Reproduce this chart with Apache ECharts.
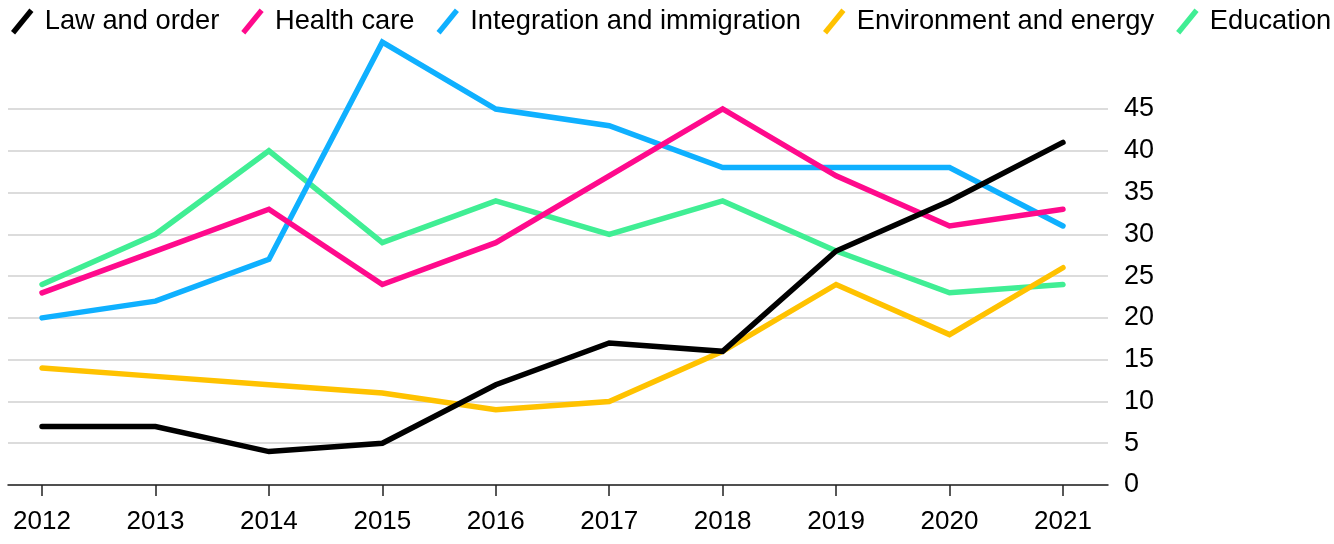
<!DOCTYPE html>
<html>
<head>
<meta charset="utf-8">
<script src="https://cdn.jsdelivr.net/npm/echarts@6/dist/echarts.min.js"></script>
<style>html,body{margin:0;padding:0;background:#fff}#c{width:1334px;height:544px}</style>
</head>
<body>
<div id="c"></div>
<script>
const years = [2012, 2013, 2014, 2015, 2016, 2017, 2018, 2019, 2020, 2021];
const seriesNames = ['Law and order', 'Health care', 'Integration and immigration', 'Environment and energy', 'Education'];
const lawAndOrder = [7, 7, 4, 5, 12, 17, 16, 28, 34, 41];
const healthCare = [23, 28, 33, 24, 29, 37, 45, 37, 31, 33];
const integration = [20, 22, 27, 53, 45, 43, 38, 38, 38, 31];
const environment = [14, 13, 12, 11, 9, 10, 16, 24, 18, 26];
const education = [24, 30, 40, 29, 34, 30, 34, 28, 23, 24];
const yTicks = [0, 5, 10, 15, 20, 25, 30, 35, 40, 45];
const colors = ['#000000', '#ff0a8c', '#0fb0ff', '#ffc200', '#40ee94'];

const values = [lawAndOrder, healthCare, integration, environment, education];
const font = '"Liberation Sans", Arial, Helvetica, sans-serif';
const chart = echarts.init(document.getElementById('c'), null, {renderer: 'canvas'});
chart.setOption({
  animation: false,
  color: colors,
  legend: {
    left: 11, top: 8, width: 1334, padding: 0,
    itemGap: 22, itemWidth: 27, itemHeight: 26,
    icon: 'path://M0,22 L18,0 L22,3.5 L4,25.5 Z',
    textStyle: {fontFamily: font, fontSize: 27.3, color: '#000', padding: [0, 0, 0, 4]},
    data: seriesNames
  },
  grid: {left: 8, right: 226, top: 109, bottom: 59, containLabel: false},
  xAxis: {
    type: 'value', min: 2011.7, max: 2021.397,
    axisLine: {show: true, onZero: false, lineStyle: {color: '#222', width: 1.5}},
    axisTick: {show: true, length: 11, lineStyle: {color: '#222', width: 1.5}, customValues: years},
    axisLabel: {customValues: years, fontFamily: font, fontSize: 26, color: '#000', margin: 24, formatter: v => String(v)},
    splitLine: {show: false}
  },
  yAxis: {
    type: 'value', position: 'right', min: 0, max: 45, interval: 5,
    axisLine: {show: false}, axisTick: {show: false},
    axisLabel: {fontFamily: font, fontSize: 27, color: '#000', margin: 16, align: 'left',
      customValues: yTicks},
    splitLine: {show: true, lineStyle: {color: '#dcdcdc', width: 2}}
  },
  series: seriesNames.map((n, i) => ({
    name: n, type: 'line', clip: false, symbol: 'none',
    data: years.map((y, j) => [y, values[i][j]]),
    lineStyle: {width: 5.5, color: colors[i], cap: 'round', join: 'miter'},
    z: 10 - i
  }))
});
</script>
</body>
</html>
